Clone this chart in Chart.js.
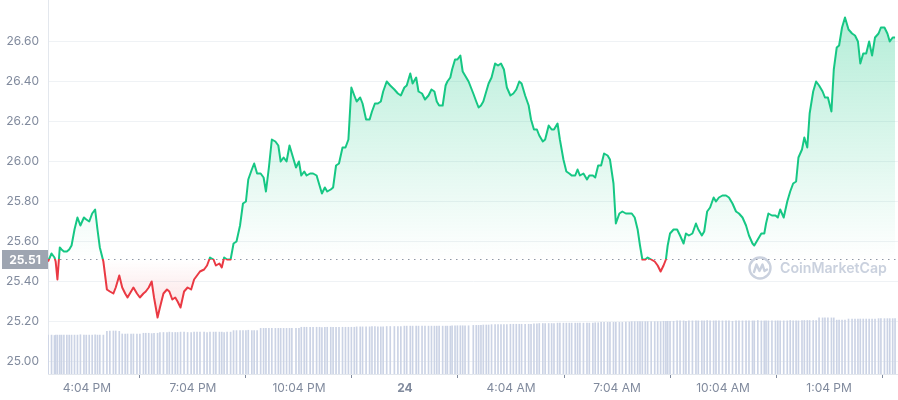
<!DOCTYPE html>
<html>
<head>
<meta charset="utf-8">
<script src="https://cdn.jsdelivr.net/npm/chart.js@4.4.1/dist/chart.umd.min.js"></script>
<style>
html,body{margin:0;padding:0;background:#ffffff;}
#c{display:block;}
</style>
</head>
<body>
<canvas id="c" width="898" height="400"></canvas>
<script>
// ---- data (minutes since window start, price in USD) ----
const times = [
0,6,11,13,16,20,23,27,32,36,40,45,50,55,61,65,70,75,80,84,88,94,100,105,111,115,121,126,131,135,141,145,151,156,162,166,171,176,180,186,190,196,202,206,211,216,220,225,231,237,243,248,
253,258,265,270,275,281,285,291,295,299,304,310,315,320,326,331,336,340,346,350,355,361,366,370,375,380,386,391,395,400,405,410,414,421,426,430,435,439,445,450,456,461,465,470,474,480,
484,489,494,500,505,510,515,520,524,530,534,540,546,550,555,560,565,569,575,581,588,594,599,605,609,615,619,625,629,635,640,646,651,656,660,664,670,675,678,683,686,691,695,700,704,708,714,
722,727,731,735,739,744,748,753,759,764,769,774,779,785,790,795,800,804,810,816,820,825,830,834,840,844,850,855,859,865,869,875,880,885,889,895,899,903,909,915,919,925,929,934,939,944,950,954,960,964,970,
975,981,987,991,996,1001,1005,1009,1014,1018,1024,1030,1035,1040,1045,1049,1052,1056,1062,1068,1073,1079,1083,1088,1094,1100,1104,1110,1114,1119,1124,1130,1134,1139,1145,1151,1156,1162,1168,1173,1179,1185,1190,1196,1199,1205,1211,1216,
1219,1223,1229,1235,1239,1243,1249,1255,1260,1265,1270,1274,1280,1284,1289,1293,1299,1304,1309,1315,1319,1324,1330,1334,1339,1343,1348,1353,1359,1365,1370,1375,1379,1384,1389,1394,1399,1404,1410,1414,1420,1425,1429,1434,1438
];
const prices = [
25.50,25.54,25.52,25.50,25.41,25.57,25.56,25.55,25.55,25.56,25.58,25.66,25.72,25.68,25.72,25.71,25.70,25.74,25.76,25.66,25.57,25.50,25.36,25.35,25.34,25.37,25.43,25.37,25.34,25.32,25.35,25.37,25.34,25.32,25.34,25.35,25.37,25.40,25.32,25.22,25.27,25.34,25.36,25.35,25.31,25.32,25.30,25.27,25.35,25.37,25.36,25.41,
25.43,25.45,25.46,25.48,25.52,25.51,25.48,25.49,25.47,25.52,25.51,25.51,25.59,25.60,25.68,25.79,25.80,25.91,25.96,25.99,25.94,25.94,25.92,25.85,25.97,26.11,26.10,26.08,26.00,26.02,26.00,26.08,26.04,25.97,26.00,25.93,25.95,25.93,25.94,25.94,25.93,25.88,25.84,25.87,25.85,25.86,
25.87,25.98,25.99,26.07,26.07,26.11,26.37,26.33,26.30,26.32,26.29,26.21,26.21,26.25,26.29,26.29,26.30,26.35,26.40,26.38,26.36,26.34,26.33,26.37,26.38,26.44,26.39,26.42,26.35,26.34,26.31,26.33,26.36,26.35,26.30,26.28,26.28,26.38,26.40,26.42,26.46,26.51,26.51,26.53,26.45,26.43,26.40,
26.34,26.30,26.27,26.28,26.30,26.35,26.39,26.42,26.49,26.48,26.49,26.46,26.37,26.33,26.34,26.36,26.40,26.39,26.33,26.28,26.21,26.16,26.16,26.13,26.10,26.11,26.18,26.16,26.16,26.19,26.11,26.01,25.95,25.94,25.93,25.93,25.96,25.93,25.94,25.91,25.93,25.93,25.92,25.98,25.98,26.04,26.03,26.01,25.89,25.69,25.74,
25.75,25.74,25.74,25.74,25.72,25.66,25.58,25.51,25.51,25.52,25.51,25.50,25.48,25.45,25.48,25.51,25.58,25.64,25.66,25.66,25.63,25.59,25.64,25.63,25.64,25.69,25.66,25.63,25.65,25.75,25.77,25.82,25.80,25.82,25.83,25.83,25.82,25.79,25.75,25.74,25.72,25.68,25.63,25.59,25.58,25.61,25.64,25.64,
25.69,25.74,25.73,25.73,25.72,25.76,25.72,25.80,25.85,25.89,25.90,26.02,26.06,26.12,26.07,26.24,26.35,26.40,26.38,26.35,26.32,26.32,26.25,26.46,26.57,26.58,26.67,26.72,26.66,26.64,26.63,26.60,26.49,26.54,26.54,26.60,26.53,26.62,26.64,26.67,26.67,26.64,26.60,26.62,26.62
];
// 24h volume (millions), one bar per price point
const volumes = [
104,104,103,104,104,104,104,104,104,104,104,104,104,105,104,104,104,104,105,104,104,104,114,115,115,115,114,107,107,107,107,107,107,107,109,109,109,108,109,109,111,111,111,112,111,111,111,112,112,111,111,112,
112,112,112,111,112,112,112,112,112,111,112,112,116,116,116,116,116,117,116,116,116,122,122,122,122,122,122,122,122,122,122,122,122,122,122,125,125,125,125,125,125,125,124,125,125,125,
125,125,125,125,125,125,125,125,126,126,126,126,126,127,127,126,126,126,127,127,127,127,127,128,128,128,128,128,128,128,128,128,128,128,128,128,128,128,128,128,129,129,129,129,129,129,129,
130,130,130,130,131,131,131,132,132,132,132,132,132,133,133,133,133,133,133,133,133,134,134,135,135,135,135,135,135,136,136,136,136,136,136,136,136,136,136,136,136,136,137,137,138,138,138,138,138,138,138,
138,139,139,140,140,140,140,140,140,140,140,140,140,140,141,141,141,141,141,142,142,142,141,142,142,142,142,142,142,143,142,142,142,142,142,142,142,141,142,142,142,142,142,142,142,143,142,142,
142,142,142,142,142,142,142,142,143,142,142,142,143,143,143,143,143,143,150,150,150,150,150,150,144,144,144,144,147,147,147,147,147,147,147,147,147,147,148,148,148,148,148,148,148
];
const baseline = 25.51;
const yTicks = [25.00,25.20,25.40,25.60,25.80,26.00,26.20,26.40,26.60];
const xTickMinutes = [66,246,426,606,786,966,1146,1326];
const xTickLabels = ['4:04 PM','7:04 PM','10:04 PM','24','4:04 AM','7:04 AM','10:04 AM','1:04 PM'];

const GREEN = '#16c784', RED = '#ea3943';
const FONT = 'Inter, "Noto Sans", sans-serif';
Chart.defaults.font.family = FONT;

function noPad(s) { s.paddingTop = 0; s.paddingBottom = 0; s.paddingLeft = 0; s.paddingRight = 0; }

const decor = {
  id: 'decor',
  afterLayout(chart) {
    const {ctx, chartArea: a, scales: {y}} = chart;
    const yb = y.getPixelForValue(baseline);
    const ds = chart.data.datasets[0];
    const t = Math.min(1, Math.max(0, (yb - a.top) / (a.bottom - a.top)));
    const bc = ctx.createLinearGradient(0, a.top, 0, a.bottom);
    bc.addColorStop(0, GREEN); bc.addColorStop(t, GREEN);
    bc.addColorStop(t, RED); bc.addColorStop(1, RED);
    ds.borderColor = bc;
    const ga = ctx.createLinearGradient(0, a.top, 0, yb);
    ga.addColorStop(0, 'rgba(22,199,132,0.34)');
    ga.addColorStop(1, 'rgba(22,199,132,0.0)');
    const gb = ctx.createLinearGradient(0, yb, 0, y.getPixelForValue(25.22));
    gb.addColorStop(0, 'rgba(234,57,67,0.0)');
    gb.addColorStop(1, 'rgba(234,57,67,0.17)');
    ds.fill = {target: {value: baseline}, above: ga, below: gb};
  },
  beforeDatasetsDraw(chart) {
    const {ctx, chartArea: a, scales: {y}} = chart;
    const yb = Math.round(y.getPixelForValue(baseline)) + 0.5;
    ctx.save();
    // watermark
    const cx = a.right - 138, cy = a.bottom - 106;
    ctx.strokeStyle = '#cad1de';
    ctx.fillStyle = '#cad1de';
    ctx.lineWidth = 2.4;
    ctx.lineJoin = 'round';
    ctx.lineCap = 'round';
    ctx.beginPath();
    ctx.arc(cx, cy, 10.5, 0, Math.PI * 2);
    ctx.stroke();
    ctx.beginPath();
    ctx.moveTo(cx - 6, cy + 4);
    ctx.lineTo(cx - 3.5, cy - 3.5);
    ctx.lineTo(cx - 0.5, cy + 3);
    ctx.lineTo(cx + 2.5, cy - 3.5);
    ctx.lineTo(cx + 4.5, cy + 3);
    ctx.lineTo(cx + 7, cy + 1.5);
    ctx.stroke();
    const wmText = 'CoinMarketCap';
    const wmWidth = 107;
    ctx.font = '600 16px ' + FONT;
    const w16 = ctx.measureText(wmText).width;
    const size = Math.max(10, 16 * wmWidth / w16);
    ctx.font = '600 ' + size.toFixed(2) + 'px ' + FONT;
    ctx.textAlign = 'left';
    ctx.textBaseline = 'middle';
    ctx.fillText(wmText, cx + 20, cy + 1);
    // dotted baseline
    ctx.strokeStyle = '#8f97a5';
    ctx.lineWidth = 1;
    ctx.setLineDash([1.5, 4.5]);
    ctx.lineCap = 'butt';
    ctx.beginPath();
    ctx.moveTo(a.left, yb);
    ctx.lineTo(a.right, yb);
    ctx.stroke();
    ctx.restore();
  },
  afterDraw(chart) {
    const {ctx, chartArea: a, scales: {y}} = chart;
    const yb = y.getPixelForValue(baseline);
    ctx.save();
    ctx.fillStyle = '#9ea5b1';
    ctx.fillRect(a.left - 46, Math.round(yb - 9.5), 46, 19);
    ctx.fillStyle = '#ffffff';
    ctx.font = '700 12px ' + FONT;
    ctx.textAlign = 'center';
    ctx.textBaseline = 'middle';
    ctx.fillText(baseline.toFixed(2), a.left - 23, yb + 0.5);
    ctx.restore();
  }
};

new Chart(document.getElementById('c'), {
  type: 'line',
  data: {
    datasets: [
      {
        type: 'line',
        label: 'Price',
        data: times.map((t, i) => ({x: t, y: prices[i]})),
        yAxisID: 'y',
        borderColor: GREEN,
        borderWidth: 2,
        borderJoinStyle: 'round',
        pointRadius: 0,
        tension: 0,
        fill: {target: {value: baseline}, above: 'rgba(22,199,132,0.15)', below: 'rgba(234,57,67,0.1)'},
        order: 0
      },
      {
        type: 'bar',
        label: 'Volume',
        data: times.map((t, i) => ({x: t, y: volumes[i]})),
        yAxisID: 'yv',
        backgroundColor: '#cbd3e5',
        barThickness: 1,
        order: 1
      }
    ]
  },
  options: {
    responsive: false,
    animation: false,
    events: [],
    layout: {padding: 0, autoPadding: false},
    plugins: {legend: {display: false}, tooltip: {enabled: false}},
    scales: {
      x: {
        type: 'linear', min: 0, max: 1443, offset: false,
        afterBuildTicks: s => { s.ticks = xTickMinutes.map(v => ({value: v})); },
        afterFit: s => { s.height = 26; noPad(s); },
        grid: {drawOnChartArea: false, drawTicks: true, tickLength: 4, color: '#808a9d', tickColor: '#808a9d'},
        border: {display: true, color: '#e3e7ed'},
        ticks: {
          autoSkip: false, maxRotation: 0, padding: 3, color: '#808a9d',
          font: c => ({family: FONT, size: 12, weight: (c.tick && c.tick.label === '24') ? '700' : '400'}),
          callback: (v, i) => xTickLabels[i]
        }
      },
      y: {
        position: 'left', min: 24.9375, max: 26.8075,
        afterBuildTicks: s => { s.ticks = yTicks.map(v => ({value: v})); },
        afterFit: s => { s.width = 48; noPad(s); },
        grid: {color: '#eff2f5', drawTicks: false},
        border: {display: true, color: '#e3e7ed'},
        ticks: {padding: 9, color: '#808a9d', font: {family: FONT, size: 12}, callback: v => Number(v).toFixed(2)}
      },
      yv: {display: false, min: 0, max: 1000}
    }
  },
  plugins: [decor]
});
</script>
</body>
</html>
